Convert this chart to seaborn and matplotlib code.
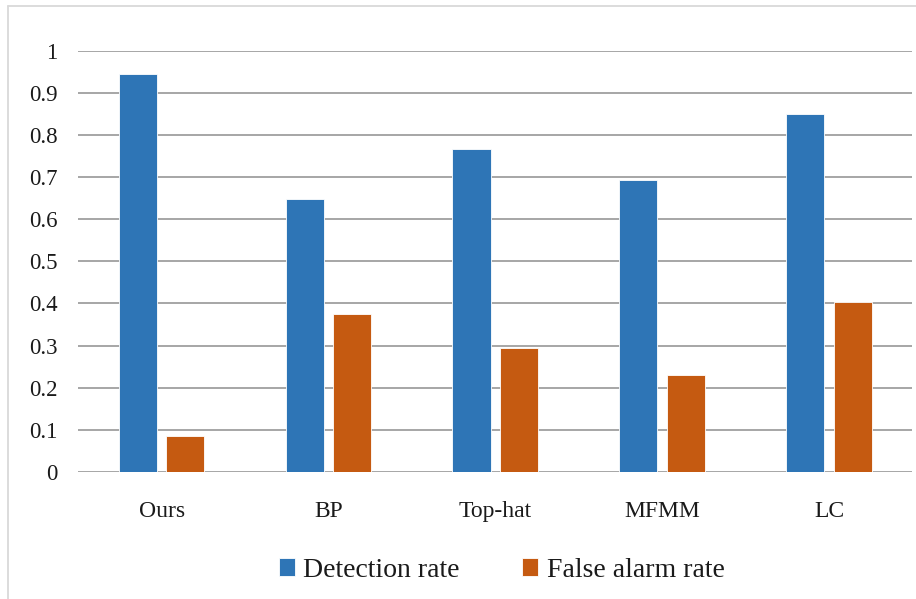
import matplotlib
matplotlib.use("Agg")
import matplotlib.pyplot as plt
from matplotlib.lines import Line2D
import seaborn as sns
import pandas as pd

methods = ["Ours", "BP", "Top-hat", "MFMM", "LC"]
detection_rate = [0.945, 0.648, 0.768, 0.693, 0.851]
false_alarm_rate = [0.085, 0.374, 0.295, 0.230, 0.403]
series_names = ["Detection rate", "False alarm rate"]
y_ticks = [0, 0.1, 0.2, 0.3, 0.4, 0.5, 0.6, 0.7, 0.8, 0.9, 1.0]
y_tick_labels = ["0", "0.1", "0.2", "0.3", "0.4", "0.5", "0.6", "0.7", "0.8", "0.9", "1"]

df = pd.DataFrame({
    "Method": methods * 2,
    "Series": [series_names[0]] * len(methods) + [series_names[1]] * len(methods),
    "Value": detection_rate + false_alarm_rate,
})

sns.set_theme(style="white")
plt.rcParams["font.family"] = ["Liberation Serif", "DejaVu Serif"]
text_color = "#1a1a1a"

fig = plt.figure(figsize=(9.16, 5.99), dpi=100)
ax = fig.add_axes([0.0853, 0.2125, 0.9108, 0.7023])

palette = {series_names[0]: "#2E75B6", series_names[1]: "#C55A11"}
sns.barplot(data=df, x="Method", y="Value", hue="Series", order=methods,
            hue_order=series_names, palette=palette, width=0.57, gap=0.2,
            saturation=1, linewidth=0.6, edgecolor="#ffffff", ax=ax, zorder=3)

ax.set_ylim(0, 1)
ax.set_xlim(-0.5, 4.5)
ax.set_yticks(y_ticks)
ax.set_yticklabels(y_tick_labels)
ax.yaxis.grid(True, color="#a6a6a6", linewidth=1.4, zorder=0)
ax.set_axisbelow(True)
for s in ax.spines.values():
    s.set_visible(False)
ax.tick_params(axis="y", length=0, pad=15, labelsize=16.5, labelcolor=text_color)
ax.tick_params(axis="x", length=0, pad=21, labelsize=17, labelcolor=text_color)
ax.set_xlabel("")
ax.set_ylabel("")

sns.move_legend(ax, "center", bbox_to_anchor=(0.5475, 0.048),
                bbox_transform=fig.transFigure, ncol=2, frameon=False,
                title=None, fontsize=20, handlelength=0.58, handleheight=0.58,
                handletextpad=0.3, columnspacing=2.25)
for t in ax.get_legend().get_texts():
    t.set_color(text_color)

# chart-area frame (top and left edges visible)
fig.add_artist(Line2D([8 / 916, 1.0], [1 - 6 / 599, 1 - 6 / 599],
                      transform=fig.transFigure, color="#d9d9d9", linewidth=1.3))
fig.add_artist(Line2D([8 / 916, 8 / 916], [0.0, 1 - 6 / 599],
                      transform=fig.transFigure, color="#d9d9d9", linewidth=1.3))

fig.savefig("out.png", dpi=100, facecolor="white")
